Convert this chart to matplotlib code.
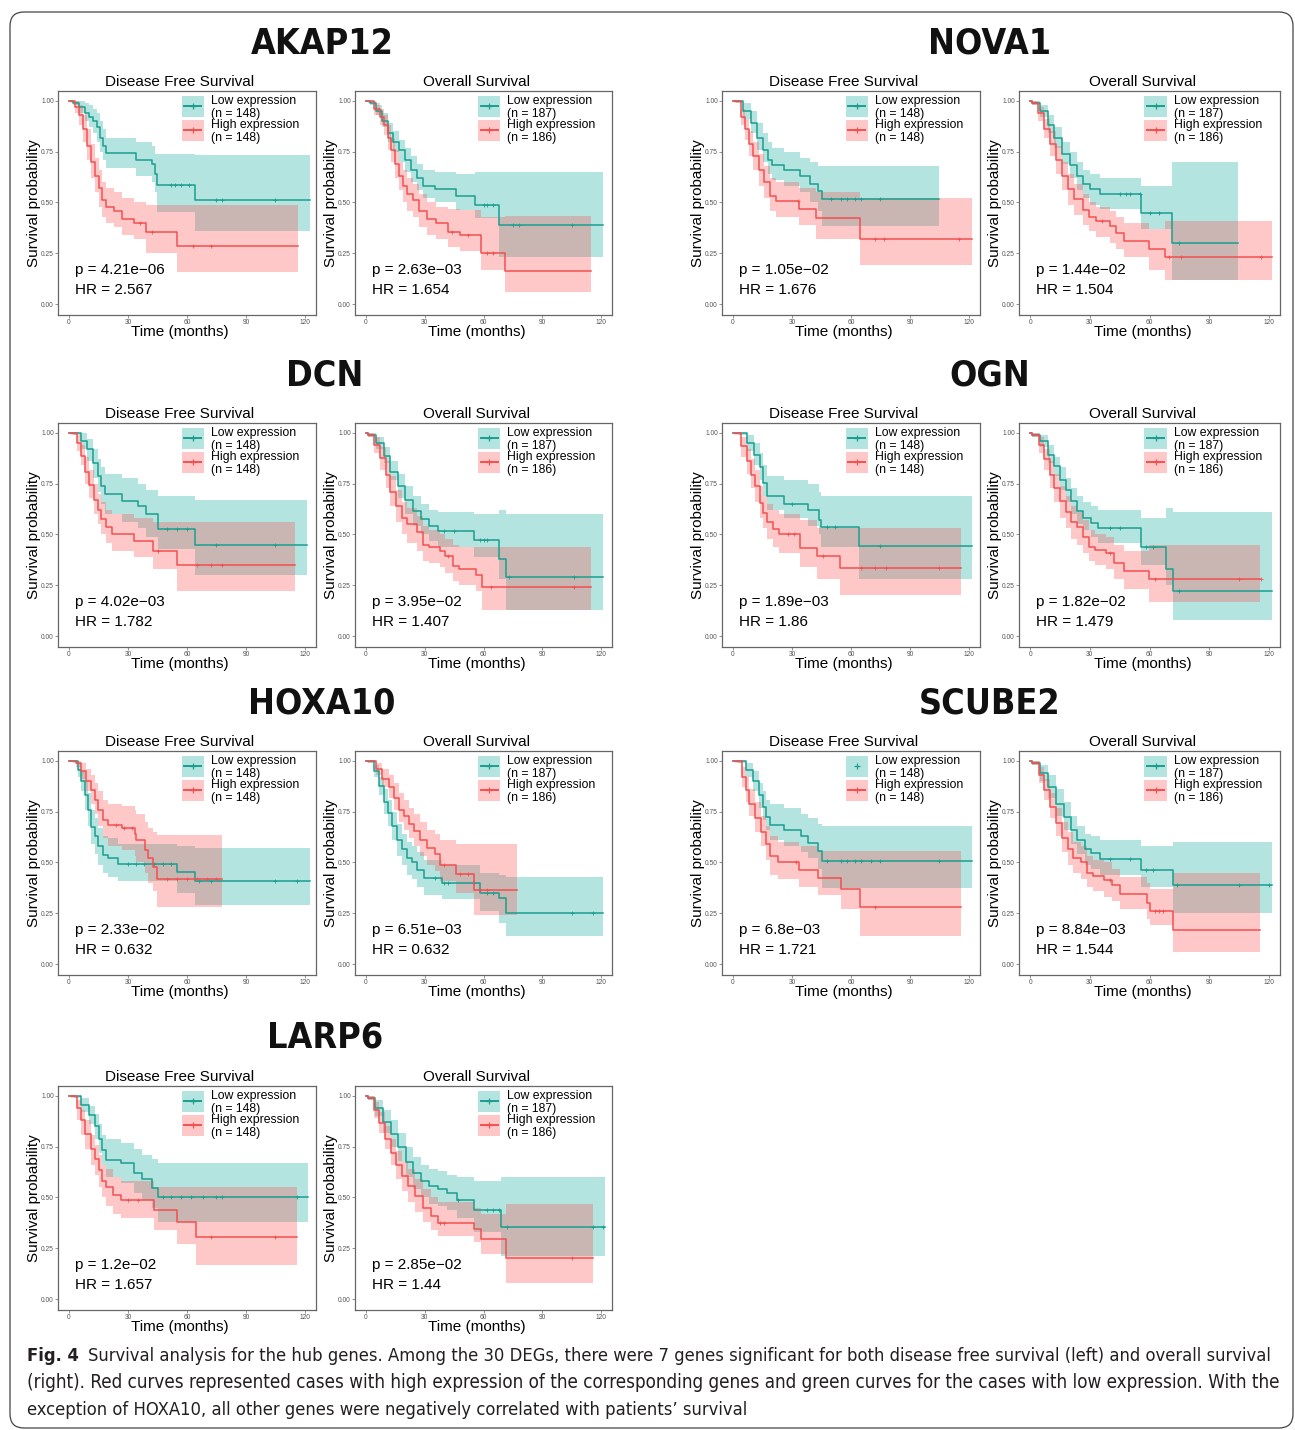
import os
import numpy as np
import matplotlib
matplotlib.use("Agg")
import matplotlib.pyplot as plt
from matplotlib import font_manager
from matplotlib.font_manager import FontProperties
from matplotlib.patches import FancyBboxPatch, Rectangle
from matplotlib.lines import Line2D

# ---------------------------------------------------------------------------
# Panel annotations
genes = ["AKAP12", "NOVA1", "DCN", "OGN", "HOXA10", "SCUBE2", "LARP6"]
dfs_p = ["4.21e\u221206", "1.05e\u221202", "4.02e\u221203", "1.89e\u221203",
         "2.33e\u221202", "6.8e\u221203", "1.2e\u221202"]
dfs_hr = ["2.567", "1.676", "1.782", "1.86", "0.632", "1.721", "1.657"]
os_p = ["2.63e\u221203", "1.44e\u221202", "3.95e\u221202", "1.82e\u221202",
        "6.51e\u221203", "8.84e\u221203", "2.85e\u221202"]
os_hr = ["1.654", "1.504", "1.407", "1.479", "0.632", "1.544", "1.44"]
dfs_n = [148, 148]
os_n = [187, 186]
x_ticks = [0, 30, 60, 90, 120]
y_ticks = [0.0, 0.25, 0.5, 0.75, 1.0]

# Kaplan-Meier curves: [time, surv, lower, upper, censored]
akap12_dfs_low = [
    [0, 2, 5, 8, 10, 12, 14, 16, 17.5, 19, 34, 42, 43.5, 44.5, 64, 122.6],
    [1, .99, .97, .94, .92, .90, .87, .82, .78, .745, .71, .69, .64, .585, .51, .51],
    [1, .98, .94, .90, .87, .84, .80, .75, .71, .67, .63, .60, .55, .455, .36, .36],
    [1, 1, 1, .99, .98, .96, .94, .90, .86, .82, .80, .78, .74, .74, .735, .735],
    [52, 54, 57, 61, 75, 78, 105]]
akap12_dfs_high = [
    [0, 1, 3, 5, 7, 9, 11, 13, 15, 17, 19, 23, 27, 33, 39, 55, 116.6],
    [1, 1, .97, .93, .86, .78, .70, .63, .57, .51, .48, .46, .42, .40, .355, .285, .285],
    [1, .99, .94, .88, .80, .71, .62, .55, .48, .43, .40, .38, .34, .32, .25, .16, .16],
    [1, 1, 1, .98, .93, .86, .79, .72, .66, .60, .57, .55, .52, .50, .49, .49, .49],
    [36, 42, 63, 72]]
akap12_os_low = [
    [0, 2, 5, 8, 11, 14, 17, 20, 23, 26, 29, 35, 46, 55.5, 68, 121],
    [1, .99, .95, .90, .84, .80, .76, .71, .66, .62, .58, .565, .53, .49, .39, .39],
    [1, .98, .93, .87, .80, .75, .70, .65, .60, .56, .52, .50, .465, .425, .23, .23],
    [1, 1, .98, .94, .89, .85, .81, .77, .73, .69, .66, .65, .64, .65, .65, .65],
    [60, 62, 65, 75, 78, 105]]
akap12_os_high = [
    [0, 1, 4, 7, 9, 11, 13, 15, 17, 19, 21, 24, 27, 31, 36, 42, 48, 58.7, 71, 115],
    [1, 1, .96, .92, .88, .82, .76, .69, .63, .58, .54, .51, .46, .42, .40, .355, .34, .25, .165, .165],
    [1, .99, .93, .88, .83, .76, .70, .62, .56, .50, .46, .43, .38, .34, .32, .28, .26, .17, .06, .06],
    [1, 1, .99, .96, .93, .88, .82, .76, .70, .66, .62, .59, .54, .50, .48, .47, .465, .43, .435, .435],
    [44, 52, 62, 65]]

nova1_dfs_low = [
    [0, 1.5, 5, 9, 12, 15, 18, 20, 26, 34, 39, 43, 45, 104.5],
    [1, 1, .95, .89, .82, .76, .71, .685, .66, .63, .59, .555, .515, .515],
    [1, .99, .91, .84, .76, .70, .64, .61, .58, .55, .50, .46, .385, .385],
    [1, 1, .99, .95, .89, .84, .80, .77, .75, .72, .70, .68, .68, .68],
    [50, 55, 58, 62, 65, 75]]
nova1_dfs_high = [
    [0, 0.6, 4, 6, 8, 10, 13, 16, 19, 22, 33.5, 42, 64.5, 121.5],
    [1, 1, .92, .86, .79, .73, .66, .60, .53, .505, .47, .425, .32, .32],
    [1, .99, .88, .81, .73, .66, .58, .52, .46, .43, .39, .32, .19, .19],
    [1, 1, .96, .91, .85, .80, .74, .68, .62, .60, .57, .55, .52, .52],
    [33, 72, 77, 115]]
nova1_os_low = [
    [0, 1, 5, 9, 12, 16, 20, 23.5, 26.5, 30, 35, 55.5, 71.5, 104.5],
    [1, .99, .95, .88, .82, .74, .685, .63, .59, .565, .54, .45, .30, .30],
    [1, .98, .92, .84, .77, .69, .62, .56, .52, .49, .47, .37, .12, .12],
    [1, 1, .98, .93, .87, .80, .75, .70, .66, .64, .62, .58, .70, .70],
    [45, 48, 50, 55, 60, 65, 75]]
nova1_os_high = [
    [0, 1, 4, 7, 10, 13, 16, 19, 22, 26.5, 29.5, 33, 40, 43, 47, 59.5, 68, 121.5],
    [1, .99, .94, .86, .79, .71, .63, .565, .515, .465, .43, .41, .385, .35, .31, .27, .23, .23],
    [1, .98, .90, .82, .73, .64, .56, .49, .44, .39, .36, .33, .30, .27, .23, .17, .12, .12],
    [1, 1, .97, .91, .85, .78, .70, .64, .59, .54, .50, .48, .46, .43, .40, .37, .41, .41],
    [36, 70, 76, 116]]

dcn_dfs_low = [
    [0, 2, 6, 9, 12, 14.5, 16.5, 18.5, 27, 35, 39, 45.5, 64, 121],
    [1, 1, .96, .92, .85, .79, .74, .70, .665, .64, .60, .525, .45, .45],
    [1, .99, .92, .86, .78, .71, .65, .60, .56, .53, .49, .43, .30, .30],
    [1, 1, 1, .97, .92, .87, .83, .80, .78, .75, .72, .69, .67, .67],
    [50, 55, 60, 75, 105]]
dcn_dfs_high = [
    [0, 1, 4, 6, 8, 10, 12.5, 14.5, 16.5, 19, 22, 33, 42.5, 55, 115],
    [1, 1, .95, .885, .81, .745, .67, .62, .575, .535, .50, .47, .42, .35, .35],
    [1, .99, .91, .84, .75, .68, .60, .55, .50, .46, .42, .39, .33, .22, .22],
    [1, 1, .99, .94, .88, .82, .75, .70, .66, .62, .60, .58, .56, .56, .56],
    [45, 65, 72, 78]]
dcn_os_low = [
    [0, 1, 5, 9, 12.5, 16.5, 20, 24, 28, 32, 37, 55, 67.7, 71.6, 121],
    [1, .99, .95, .885, .81, .74, .67, .615, .575, .54, .515, .475, .38, .29, .29],
    [1, .98, .92, .85, .77, .68, .60, .54, .50, .47, .44, .39, .28, .13, .13],
    [1, 1, .98, .93, .86, .80, .74, .69, .65, .62, .61, .60, .62, .60, .60],
    [40, 45, 58, 60, 62, 73, 106]]
dcn_os_high = [
    [0, 1, 4, 7, 10, 12.5, 15.5, 18.5, 21, 26, 29, 32, 37.7, 40.6, 44.5, 47.4, 56, 59, 115],
    [1, .99, .94, .875, .795, .71, .64, .58, .55, .51, .45, .44, .42, .395, .345, .33, .30, .24, .24],
    [1, .98, .90, .82, .73, .64, .56, .50, .46, .42, .37, .36, .34, .31, .27, .25, .22, .13, .13],
    [1, 1, .98, .93, .86, .79, .72, .66, .63, .59, .54, .52, .50, .48, .45, .44, .44, .44, .44],
    [42, 64, 106]]

ogn_dfs_low = [
    [0, 3, 7, 10.5, 13.5, 15.5, 17.5, 26, 38, 43.8, 44.7, 64, 121.6],
    [1, 1, .95, .89, .83, .755, .69, .65, .62, .57, .535, .445, .445],
    [1, .99, .91, .84, .77, .69, .62, .58, .54, .50, .44, .28, .28],
    [1, 1, .99, .95, .90, .84, .79, .77, .75, .71, .69, .69, .69],
    [30, 48, 52, 75]]
ogn_dfs_high = [
    [0, 1, 4, 7, 9, 11, 13.5, 15.5, 17.5, 20.5, 23.3, 34, 42.8, 54.5, 115.8],
    [1, 1, .935, .86, .795, .74, .655, .605, .56, .525, .50, .435, .395, .335, .335],
    [1, .99, .88, .80, .73, .66, .58, .53, .48, .44, .41, .34, .28, .20, .20],
    [1, 1, .98, .92, .87, .82, .74, .69, .65, .62, .60, .57, .53, .53, .53],
    [28, 31, 46, 65, 72, 78, 105]]
ogn_os_low = [
    [0, 1, 5, 9, 12, 15, 18, 20.7, 23.6, 26.5, 30.4, 34.3, 55.6, 68.2, 72, 121.5],
    [1, .99, .96, .89, .835, .77, .72, .665, .615, .58, .555, .53, .44, .33, .22, .22],
    [1, .98, .93, .85, .79, .72, .66, .60, .55, .52, .49, .46, .35, .25, .08, .08],
    [1, 1, .99, .94, .88, .83, .78, .73, .69, .66, .64, .62, .58, .63, .61, .61],
    [40, 45, 58, 62, 75]]
ogn_os_high = [
    [0, 1, 4.3, 7.2, 10, 12, 15, 17.8, 20.7, 23.6, 26.5, 29.5, 32.4, 38, 42, 47, 59.5, 115.7],
    [1, .99, .94, .87, .795, .73, .665, .61, .56, .535, .49, .44, .425, .41, .36, .32, .28, .28],
    [1, .98, .90, .82, .73, .66, .58, .53, .48, .45, .41, .37, .35, .33, .28, .23, .17, .17],
    [1, 1, .98, .92, .86, .80, .74, .69, .64, .61, .57, .52, .50, .49, .45, .42, .45, .45],
    [40, 63, 105, 116]]

hoxa10_dfs_low = [
    [0, 2, 4.6, 6.3, 8, 9.7, 11.4, 13, 14.8, 17.3, 20, 25, 54.7, 64, 122.6],
    [1, 1, .955, .90, .83, .76, .675, .63, .58, .535, .52, .495, .455, .41, .41],
    [1, .99, .92, .85, .76, .68, .59, .54, .49, .45, .43, .41, .35, .29, .29],
    [1, 1, .99, .95, .90, .84, .76, .72, .67, .63, .62, .59, .58, .57, .57],
    [30, 34, 38, 43, 48, 52, 66, 72, 105, 116]]
hoxa10_dfs_high = [
    [0, 1, 3.7, 6.3, 8.8, 11.4, 13, 14.8, 17.3, 20, 26.7, 33.4, 34.3, 38.5, 40.2, 42.8, 44.5, 77.6],
    [1, 1, .99, .95, .90, .855, .81, .76, .71, .685, .67, .64, .61, .56, .52, .48, .42, .42],
    [1, 1, .97, .91, .85, .79, .74, .68, .62, .58, .56, .53, .50, .45, .40, .36, .28, .28],
    [1, 1, 1, .99, .96, .93, .89, .85, .81, .79, .78, .76, .74, .70, .67, .65, .635, .635],
    [24, 28, 32, 50, 55, 60, 65, 70, 75]]
hoxa10_os_low = [
    [0, 1, 4.2, 6.7, 9.2, 11, 13.4, 16, 18.5, 21, 23.5, 26, 29.4, 38.6, 58, 68, 71.3, 121],
    [1, 1, .95, .875, .80, .745, .68, .61, .565, .52, .50, .465, .425, .40, .35, .325, .25, .25],
    [1, .99, .92, .83, .74, .68, .61, .53, .49, .44, .42, .38, .34, .32, .26, .20, .14, .14],
    [1, 1, .98, .92, .86, .81, .75, .69, .64, .60, .58, .55, .51, .49, .45, .44, .43, .43],
    [35, 40, 42, 55, 62, 65, 105, 116]]
hoxa10_os_high = [
    [0, 1, 5, 8.4, 11.7, 14.3, 16.8, 19.3, 21.8, 24.3, 27.7, 31, 35.2, 38, 46, 55, 77.2],
    [1, 1, .96, .91, .87, .82, .76, .73, .69, .655, .61, .57, .54, .49, .445, .365, .365],
    [1, .99, .93, .87, .82, .76, .70, .66, .62, .58, .53, .49, .46, .41, .35, .24, .24],
    [1, 1, .99, .96, .93, .89, .84, .81, .77, .74, .70, .66, .64, .61, .59, .59, .59],
    [40, 48, 52, 58, 62]]

scube2_dfs_low = [
    [0, 2.5, 6.4, 10.3, 13, 15, 17, 19, 25.7, 34.4, 38, 43, 45, 121.5],
    [1, 1, .955, .90, .83, .775, .725, .685, .66, .63, .595, .555, .505, .505],
    [1, .99, .92, .85, .77, .71, .66, .61, .58, .55, .52, .47, .375, .375],
    [1, 1, .99, .95, .89, .85, .81, .79, .77, .74, .72, .69, .68, .68],
    [48, 55, 58, 62, 65, 70, 75, 105]]
scube2_dfs_high = [
    [0, 1, 4.5, 6.4, 8.3, 11.2, 14, 17, 19, 22.8, 33.5, 43, 54.8, 64.5, 115.7],
    [1, 1, .92, .855, .79, .72, .65, .59, .53, .50, .465, .425, .37, .28, .28],
    [1, .99, .87, .80, .73, .65, .58, .51, .44, .42, .38, .34, .27, .14, .14],
    [1, 1, .97, .92, .86, .80, .73, .68, .63, .60, .58, .555, .555, .555, .555],
    [32, 72]]
scube2_os_low = [
    [0, 1, 5.2, 9.1, 13, 17, 20.7, 23.6, 27.5, 30.4, 35.3, 55.6, 72, 121.5],
    [1, .99, .94, .87, .79, .725, .66, .61, .565, .545, .515, .465, .39, .39],
    [1, .98, .90, .82, .73, .66, .59, .54, .49, .47, .44, .38, .25, .25],
    [1, 1, .98, .93, .86, .80, .73, .68, .64, .63, .61, .58, .60, .60],
    [40, 50, 58, 62, 74, 105, 120]]
scube2_os_high = [
    [0, 1, 4.3, 7.2, 10, 13, 16, 18.8, 21.7, 25.6, 28.5, 31.4, 37.2, 41, 45, 58.5, 60.5, 72, 115.7],
    [1, .99, .93, .855, .775, .695, .62, .565, .52, .50, .45, .435, .415, .39, .345, .30, .26, .17, .17],
    [1, .98, .89, .81, .72, .63, .55, .49, .45, .42, .38, .36, .33, .31, .27, .22, .19, .06, .06],
    [1, 1, .97, .91, .84, .77, .70, .65, .60, .58, .53, .51, .50, .47, .43, .40, .37, .45, .45],
    [40, 63, 65, 67]]

larp6_dfs_low = [
    [0, 2.3, 6.2, 10, 13, 15, 17, 18.8, 26.5, 33.3, 37, 42, 45, 121.7],
    [1, 1, .955, .905, .85, .79, .735, .685, .67, .62, .59, .545, .50, .50],
    [1, .99, .92, .86, .79, .72, .66, .60, .57, .52, .49, .45, .38, .38],
    [1, 1, .99, .95, .91, .86, .81, .79, .77, .74, .71, .69, .67, .67],
    [48, 52, 57, 62, 68, 75, 78, 116]]
larp6_dfs_high = [
    [0, 1, 4.3, 6.2, 8.1, 11, 13, 15, 17, 18.8, 22.6, 26.5, 43, 55, 64.5, 116],
    [1, 1, .94, .88, .815, .74, .69, .635, .58, .55, .51, .49, .44, .38, .305, .305],
    [1, .99, .88, .81, .74, .66, .61, .55, .50, .46, .42, .40, .34, .27, .17, .17],
    [1, 1, .98, .93, .88, .81, .76, .71, .66, .64, .60, .58, .55, .55, .55, .55],
    [30, 35, 72, 105]]
larp6_os_low = [
    [0, 1, 4.8, 8.7, 12.6, 16.4, 20.3, 24.2, 28, 32, 36.8, 41.6, 46.5, 55, 68.7, 122],
    [1, .99, .94, .87, .815, .75, .675, .62, .58, .555, .54, .52, .49, .44, .355, .355],
    [1, .98, .90, .82, .75, .68, .60, .54, .50, .47, .46, .44, .40, .33, .21, .21],
    [1, 1, .98, .93, .88, .82, .75, .70, .66, .64, .63, .61, .60, .58, .60, .60],
    [47, 62, 65, 68, 72, 116, 121]]
larp6_os_high = [
    [0, 1, 3.9, 6.8, 9.7, 12.6, 15.5, 18.4, 21.3, 25, 29, 33, 36.8, 55, 58.8, 71.6, 116],
    [1, .99, .93, .865, .79, .72, .66, .605, .555, .505, .45, .41, .375, .345, .295, .20, .20],
    [1, .98, .89, .82, .74, .66, .59, .53, .48, .43, .38, .34, .31, .28, .22, .08, .08],
    [1, 1, .97, .92, .85, .79, .73, .68, .64, .59, .54, .50, .48, .45, .42, .47, .47],
    [38, 40, 105]]

curves = {
    "AKAP12": (akap12_dfs_low, akap12_dfs_high, akap12_os_low, akap12_os_high),
    "NOVA1": (nova1_dfs_low, nova1_dfs_high, nova1_os_low, nova1_os_high),
    "DCN": (dcn_dfs_low, dcn_dfs_high, dcn_os_low, dcn_os_high),
    "OGN": (ogn_dfs_low, ogn_dfs_high, ogn_os_low, ogn_os_high),
    "HOXA10": (hoxa10_dfs_low, hoxa10_dfs_high, hoxa10_os_low, hoxa10_os_high),
    "SCUBE2": (scube2_dfs_low, scube2_dfs_high, scube2_os_low, scube2_os_high),
    "LARP6": (larp6_dfs_low, larp6_dfs_high, larp6_os_low, larp6_os_high),
}

caption_lines = [
    "Survival analysis for the hub genes. Among the 30 DEGs, there were 7 genes "
    "significant for both disease free survival (left) and overall survival",
    "(right). Red curves represented cases with high expression of the corresponding "
    "genes and green curves for the cases with low expression. With the",
    "exception of HOXA10, all other genes were negatively correlated with patients\u2019 survival",
]

# ---------------------------------------------------------------------------
W, H = 1295, 1430
TEAL_FILL, RED_FILL = "#05A898", "#FF4B4B"
TEAL_LINE, RED_LINE = "#1A9E8F", "#F25050"
FILL_ALPHA = 0.3

plt.rcParams["font.family"] = ["Liberation Sans", "DejaVu Sans"]


def condensed_font(bold, extra=False):
    """Look for an installed condensed / narrow sans face (caption + gene names)."""
    prefs = ["liberationsansnarrow", "notosans-condensed", "dejavusanscondensed",
             "opensans-condensed", "opensanscondensed", "robotocondensed"]
    if extra:
        prefs = ["notosans-extracondensed"] + prefs
    skip = ["semi", "ultra", "italic", "oblique", "mono", "serif", "light",
            "medium", "black", "thin"]
    if not extra:
        skip.append("extra")
    found = {}
    for f in font_manager.fontManager.ttflist:
        base = os.path.basename(f.fname).lower()
        if not ("condensed" in base or "narrow" in base):
            continue
        if any(s in base for s in skip):
            continue
        if extra and "extrabold" in base:
            continue
        if ("bold" in base) != bold:
            continue
        for rank, p in enumerate(prefs):
            if base.startswith(p):
                found.setdefault(rank, f.fname)
    if found:
        return FontProperties(fname=found[min(found)])
    return FontProperties(family="DejaVu Sans",
                          weight="bold" if bold else "normal")


NARROW = condensed_font(False)
NARROW_BOLD = condensed_font(True)
TITLE_BOLD = condensed_font(True, extra=True)

col_x0 = [58, 355, 722, 1019]
col_x1 = [316, 612, 980, 1280]
row_y0 = [91, 423, 751, 1086]
panel_h = 224

fig = plt.figure(figsize=(W / 100, H / 100), dpi=100)


def step_value(curve, t):
    idx = np.searchsorted(curve[0], t, side="right") - 1
    return curve[1][idx]


def draw_panel(ax, low, high, title, p_txt, hr_txt, n, marker_only=False):
    for curve, fill in ((low, TEAL_FILL), (high, RED_FILL)):
        ax.fill_between(curve[0], curve[2], curve[3], step="post",
                        color=fill, alpha=FILL_ALPHA, lw=0)
    for curve, col in ((low, TEAL_LINE), (high, RED_LINE)):
        ax.step(curve[0], curve[1], where="post", color=col, lw=1.1)
        cens = curve[4]
        ax.plot(cens, [step_value(curve, c) for c in cens], ls="none",
                marker="+", ms=3, mew=0.6, color=col)

    ax.set_xlim(-5.6, 125.6)
    ax.set_ylim(-0.054, 1.049)
    ax.set_xticks(x_ticks)
    ax.set_xticklabels([str(v) for v in x_ticks])
    ax.set_yticks(y_ticks)
    ax.set_yticklabels([f"{v:.2f}" for v in y_ticks])
    ax.tick_params(labelsize=4.8, labelcolor="#555555", length=2, width=0.5,
                   color="#666666", pad=1)
    for sp in ax.spines.values():
        sp.set_color("#666666")
        sp.set_linewidth(0.9)

    ax.text(0.473, 1.04, title, transform=ax.transAxes, ha="center",
            va="center", fontsize=11)
    ax.text(0.473, -0.078, "Time (months)", transform=ax.transAxes,
            ha="center", va="center", fontsize=11)
    ax.text(-0.092, 0.5, "Survival probability", transform=ax.transAxes,
            ha="center", va="center", rotation=90, fontsize=11)
    ax.text(0.066, 0.201, f"p = {p_txt}", transform=ax.transAxes,
            ha="left", va="center", fontsize=11)
    ax.text(0.066, 0.112, f"HR = {hr_txt}", transform=ax.transAxes,
            ha="left", va="center", fontsize=11)

    # legend keys drawn by hand (ggplot style boxes)
    keys = [(0.884, TEAL_FILL, TEAL_LINE, "Low expression", n[0]),
            (0.777, RED_FILL, RED_LINE, "High expression", n[1])]
    for k, (yb, fill, line, lab, nn) in enumerate(keys):
        ax.add_patch(Rectangle((0.48, yb), 0.086, 0.094, transform=ax.transAxes,
                               facecolor=fill, alpha=FILL_ALPHA, lw=0))
        ym = yb + 0.047
        if not (marker_only and k == 0):
            ax.add_line(Line2D([0.49, 0.556], [ym, ym], transform=ax.transAxes,
                               color=line, lw=1.4))
        ax.add_line(Line2D([0.523], [ym], transform=ax.transAxes, marker="+",
                           ms=5, mew=0.9, color=line))
        ax.text(0.593, yb + 0.071, lab, transform=ax.transAxes, ha="left",
                va="center", fontsize=8.8)
        ax.text(0.593, yb + 0.013, f"(n = {nn})", transform=ax.transAxes,
                ha="left", va="center", fontsize=8.8)


for i, g in enumerate(genes):
    row, grp = i // 2, i % 2
    dl, dh, ol, oh = curves[g]
    y0 = row_y0[row]
    for j, (low, high, title, p_txt, hr_txt, n) in enumerate(
            [(dl, dh, "Disease Free Survival", dfs_p[i], dfs_hr[i], dfs_n),
             (ol, oh, "Overall Survival", os_p[i], os_hr[i], os_n)]):
        c = grp * 2 + j
        ax = fig.add_axes([col_x0[c] / W, 1 - (y0 + panel_h) / H,
                           (col_x1[c] - col_x0[c]) / W, panel_h / H])
        draw_panel(ax, low, high, title, p_txt, hr_txt, n,
                   marker_only=(g == "SCUBE2" and j == 0))

# overlay in pixel coordinates: border, gene names, caption
ov = fig.add_axes([0, 0, 1, 1], zorder=5)
ov.set_xlim(0, W)
ov.set_ylim(H, 0)
ov.axis("off")
ov.patch.set_alpha(0)
ov.add_patch(FancyBboxPatch((10, 12), 1283, 1416,
                            boxstyle="round,pad=0,rounding_size=14",
                            facecolor="none", edgecolor="#444444", lw=0.9))

renderer = fig.canvas.get_renderer()


def fit_width(txt, width):
    bb = txt.get_window_extent(renderer)
    txt.set_fontsize(txt.get_fontsize() * width / bb.width)
    return txt.get_fontsize()


gene_centres = [(322, 44), (990, 44), (325, 376), (990, 376),
                (322, 704), (990, 704), (325, 1038)]
gene_txt = []
for g, (gx, gy) in zip(genes, gene_centres):
    gene_txt.append(ov.text(gx, gy, g, ha="center", va="center",
                            fontproperties=TITLE_BOLD, fontsize=30,
                            color="#111111"))
gsize = min(fit_width(gene_txt[0], 143), 36)
for t in gene_txt:
    t.set_fontsize(gsize)

cap_color = "#231F20"
fig_lab = ov.text(27, 1356, "Fig. 4", ha="left", va="center", fontsize=14,
                  fontproperties=NARROW_BOLD, color=cap_color)
l1 = ov.text(88, 1356, caption_lines[0], ha="left", va="center", fontsize=14,
             fontproperties=NARROW, color=cap_color)
csize = fit_width(l1, 1192)
fig_lab.set_fontsize(csize)
l2 = ov.text(27, 1383, caption_lines[1], ha="left", va="center",
             fontsize=csize, fontproperties=NARROW, color=cap_color)
fit_width(l2, 1253)
ov.text(27, 1410, caption_lines[2], ha="left", va="center", fontsize=csize,
        fontproperties=NARROW, color=cap_color)

fig.savefig("out.png", dpi=100)
